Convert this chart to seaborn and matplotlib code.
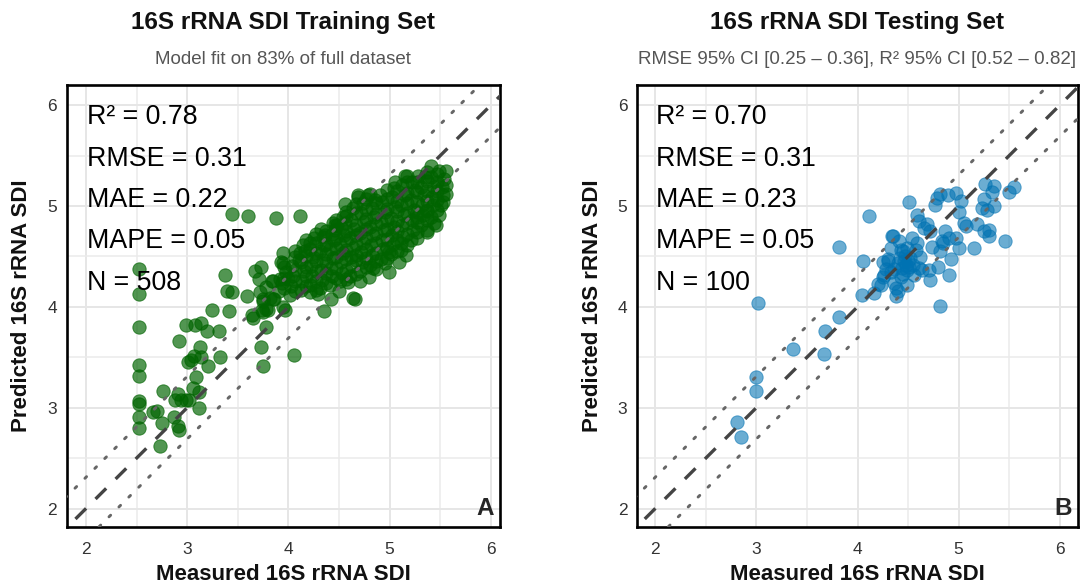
import numpy as np
import pandas as pd
import matplotlib
matplotlib.use("Agg")
import matplotlib.pyplot as plt
import seaborn as sns

# ---------------- data ----------------
train_measured = [
    2.52, 2.52, 2.52, 2.52, 2.52, 2.52, 2.52, 2.52, 2.52,
    2.76, 2.66, 2.70, 2.75, 2.87, 2.91, 2.92, 2.73,
    2.88, 2.94, 2.99, 2.91, 3.02, 3.12, 3.06, 3.12, 3.09,
    3.01, 3.04, 3.07, 3.13, 3.21, 3.32, 3.14, 2.92,
    2.99, 3.08, 3.14, 3.20, 3.31, 3.25, 3.41,
    3.64, 3.65, 3.75, 3.78, 3.73, 3.75, 3.78,
    3.59, 3.85, 3.39, 3.44, 3.44, 3.60, 3.88, 4.11,
    3.37, 3.74, 3.80, 3.75, 3.82, 3.86, 3.97, 3.95,
    4.06, 4.35, 4.64, 3.67, 3.71, 3.84, 3.92, 4.00,
    3.95, 3.93, 4.11, 4.10, 4.36, 4.46, 4.54,
    4.21, 4.29, 4.42, 4.50, 4.66,
    4.56, 4.69, 4.81, 4.90, 4.97, 5.05, 5.17, 5.28,
    5.41, 5.49, 5.56, 5.56, 5.56, 5.53, 5.49, 5.46,
    5.37, 5.37, 5.27, 5.27, 5.16, 5.11, 5.09, 4.99,
    4.95, 4.87, 4.80, 4.71, 4.59, 4.34, 4.21, 4.46,
    4.56, 4.44, 5.15, 5.44, 5.37, 4.99, 4.84,
    4.69, 4.79, 4.48, 3.95, 3.85, 3.75,
    3.73, 3.78, 3.72,
    3.91, 3.94, 3.98, 4.02, 4.03, 4.05, 4.04, 4.07,
    4.12, 4.13, 4.15, 4.12, 4.16, 4.14,
    4.21, 4.23, 4.22, 4.24, 4.21, 4.25,
    4.31, 4.33, 4.32, 4.34, 4.31, 4.35, 4.32,
    4.41, 4.43, 4.42, 4.44, 4.41, 4.45, 4.43,
    4.51, 4.53, 4.52, 4.54, 4.51, 4.55, 4.52, 4.57,
    4.61, 4.63, 4.62, 4.64, 4.61, 4.65, 4.62, 4.64,
    4.71, 4.73, 4.72, 4.74, 4.71, 4.75, 4.72, 4.74,
    4.81, 4.83, 4.82, 4.84, 4.81, 4.85, 4.83, 4.86,
    4.91, 4.93, 4.92, 4.94, 4.91, 4.95, 4.92,
    5.01, 5.03, 5.02, 5.04, 5.01, 5.05, 5.02, 5.04,
    5.11, 5.13, 5.12, 5.14, 5.11, 5.15, 5.12,
    5.21, 5.23, 5.22, 5.24, 5.21, 5.25, 5.22,
    5.31, 5.33, 5.32, 5.34, 5.31, 5.35,
    5.41, 5.43, 5.42, 5.44, 5.41,
    5.51, 5.53, 5.52, 5.54,
    3.96, 3.96, 3.96,
    4.07, 4.07, 4.07, 4.07,
    4.17, 4.17, 4.17, 4.17, 4.17,
    4.27, 4.27, 4.27, 4.27, 4.27, 4.27, 4.27,
    4.37, 4.37, 4.37, 4.37, 4.37, 4.37,
    4.47, 4.47, 4.47, 4.47, 4.47, 4.47,
    4.57, 4.57, 4.57, 4.57, 4.57, 4.57, 4.57,
    4.67, 4.67, 4.67, 4.67, 4.67, 4.67, 4.67, 4.67,
    4.77, 4.77, 4.77, 4.77, 4.77, 4.77, 4.77, 4.77,
    4.87, 4.87, 4.87, 4.87, 4.87, 4.87, 4.87,
    4.97, 4.97, 4.97, 4.97, 4.97, 4.97, 4.97,
    5.07, 5.07, 5.07, 5.07, 5.07, 5.07, 5.07,
    5.17, 5.17, 5.17, 5.17, 5.17, 5.17, 5.17,
    5.27, 5.27, 5.27, 5.27, 5.27, 5.27,
    5.37, 5.37, 5.37, 5.37, 5.37, 5.37,
    5.47, 5.47, 5.47, 5.47, 5.47,
]
train_predicted = [
    4.38, 4.13, 3.80, 3.42, 3.31, 3.07, 3.04, 2.91, 2.80,
    3.17, 2.96, 2.97, 2.85, 2.91, 2.82, 2.78, 2.62,
    3.08, 3.08, 3.08, 3.14, 3.08, 3.00, 3.20, 3.16, 3.30,
    3.45, 3.47, 3.51, 3.60, 3.41, 3.50, 3.50, 3.66,
    3.82, 3.82, 3.84, 3.76, 3.76, 3.97, 3.96,
    3.92, 3.89, 3.95, 3.98, 3.60, 3.41, 3.80,
    4.11, 4.08, 4.16, 4.15, 4.92, 4.90, 4.88, 4.90,
    4.32, 3.97, 3.97, 4.06, 4.09, 4.08, 3.97, 4.00,
    3.52, 3.96, 4.09, 4.36, 4.28, 4.26, 4.28, 4.28,
    4.53, 4.44, 4.53, 4.46, 4.71, 4.81, 4.89,
    4.15, 4.13, 4.08, 4.16, 4.08,
    5.02, 5.09, 5.12, 5.11, 5.16, 5.24, 5.30, 5.30,
    5.40, 5.35, 5.35, 5.21, 5.12, 5.04, 4.91, 4.81,
    4.76, 4.96, 4.68, 4.89, 4.51, 4.63, 4.44, 4.54,
    4.43, 4.38, 4.30, 4.26, 4.25, 4.69, 4.63, 4.76,
    4.83, 4.83, 5.30, 4.83, 4.74, 4.35, 4.39,
    5.11, 5.11, 4.81, 4.43, 4.26, 4.08,
    4.40, 4.20, 4.15,
    4.16, 4.24, 4.35, 4.12, 4.21, 4.31, 4.41, 4.49,
    4.17, 4.26, 4.36, 4.44, 4.55, 4.61,
    4.22, 4.31, 4.41, 4.49, 4.57, 4.68,
    4.19, 4.27, 4.37, 4.46, 4.55, 4.61, 4.77,
    4.22, 4.31, 4.39, 4.48, 4.57, 4.66, 4.72,
    4.26, 4.34, 4.44, 4.53, 4.62, 4.71, 4.79, 4.94,
    4.31, 4.41, 4.49, 4.58, 4.68, 4.77, 4.86, 4.98,
    4.36, 4.44, 4.54, 4.63, 4.73, 4.84, 4.93, 5.03,
    4.42, 4.51, 4.61, 4.71, 4.79, 4.89, 4.98, 5.06,
    4.47, 4.57, 4.66, 4.76, 4.84, 4.94, 5.04,
    4.52, 4.62, 4.71, 4.79, 4.88, 4.99, 5.09, 5.18,
    4.56, 4.69, 4.81, 4.91, 5.01, 5.11, 5.21,
    4.66, 4.76, 4.86, 4.96, 5.06, 5.16, 5.24,
    4.81, 4.91, 5.01, 5.11, 5.19, 5.29,
    4.89, 5.01, 5.09, 5.19, 5.29,
    5.01, 5.11, 5.19, 5.27,
    4.19, 4.29, 4.40,
    4.16, 4.26, 4.37, 4.55,
    4.21, 4.31, 4.40, 4.50, 4.66,
    4.17, 4.26, 4.36, 4.45, 4.53, 4.63, 4.72,
    4.24, 4.34, 4.43, 4.52, 4.62, 4.75,
    4.29, 4.39, 4.49, 4.58, 4.68, 4.86,
    4.28, 4.37, 4.47, 4.56, 4.66, 4.75, 4.90,
    4.33, 4.46, 4.51, 4.62, 4.71, 4.81, 4.93, 5.02,
    4.40, 4.48, 4.57, 4.68, 4.77, 4.87, 4.97, 5.07,
    4.45, 4.53, 4.63, 4.73, 4.82, 4.92, 5.03,
    4.48, 4.58, 4.67, 4.77, 4.86, 4.97, 5.07,
    4.55, 4.66, 4.75, 4.85, 4.95, 5.05, 5.15,
    4.61, 4.72, 4.83, 4.93, 5.03, 5.13, 5.24,
    4.74, 4.84, 4.94, 5.04, 5.14, 5.24,
    4.86, 4.95, 5.05, 5.15, 5.25, 5.34,
    4.96, 5.06, 5.15, 5.24, 5.32,
]

test_measured = [
    3.36, 3.68, 3.67, 3.00, 3.00, 2.81, 2.85, 3.02, 3.82, 4.11,
    4.51, 4.05, 3.82, 4.04, 4.16, 4.23, 4.26, 4.25, 4.34, 4.41,
    4.45, 4.54, 4.59, 4.52, 4.44, 4.36, 4.38, 4.38, 4.49, 4.56,
    4.30, 4.33, 4.59, 4.61, 4.20, 4.25, 4.30, 4.43, 4.49, 4.48,
    4.49, 4.40, 4.62, 4.61, 4.64, 4.71, 4.72, 4.80, 4.82, 4.74,
    4.85, 4.87, 4.92, 4.90, 4.97, 5.00, 4.82, 4.69, 4.72, 4.77,
    4.79, 4.82, 4.89, 4.97, 5.02, 5.00, 5.05, 5.07, 5.18, 5.25,
    5.30, 5.30, 5.15, 5.26, 5.35, 5.33, 5.25, 5.23, 5.28, 5.35,
    5.50, 5.55, 5.46, 4.46, 4.51, 4.66, 4.84, 4.90, 4.35, 4.42,
    4.47, 4.40, 4.45, 4.50, 4.36, 4.43, 4.55, 4.33, 4.58, 4.28,
]
test_predicted = [
    3.58, 3.76, 3.53, 3.30, 3.17, 2.86, 2.71, 4.04, 4.59, 4.90,
    5.04, 4.45, 3.90, 4.12, 4.14, 4.22, 4.32, 4.44, 4.70, 4.65,
    4.55, 4.68, 4.63, 4.48, 4.39, 4.24, 4.19, 4.11, 4.22, 4.32,
    4.45, 4.35, 4.91, 4.85, 4.23, 4.30, 4.47, 4.56, 4.58, 4.42,
    4.37, 4.16, 4.49, 4.39, 4.37, 4.37, 4.27, 4.40, 4.55, 4.59,
    4.63, 4.75, 4.47, 4.32, 4.68, 4.58, 4.01, 4.82, 4.75, 5.01,
    5.08, 5.12, 5.11, 5.13, 5.05, 4.94, 4.83, 4.80, 4.82, 4.75,
    4.70, 4.76, 4.58, 5.22, 5.20, 5.14, 5.07, 4.98, 4.96, 5.00,
    5.14, 5.19, 4.65, 4.45, 4.40, 4.78, 4.65, 4.68, 4.70, 4.48,
    4.50, 4.43, 4.33, 4.45, 4.38, 4.30, 4.42, 4.58, 4.56, 4.38,
]

panel_titles = ["16S rRNA SDI Training Set", "16S rRNA SDI Testing Set"]
panel_subtitles = ["Model fit on 83% of full dataset",
                   "RMSE 95% CI [0.25 \u2013 0.36], R\u00b2 95% CI [0.52 \u2013 0.82]"]
panel_letters = ["A", "B"]
stats_train = ["R\u00b2 = 0.78", "RMSE = 0.31", "MAE = 0.22", "MAPE = 0.05", "N = 508"]
stats_test = ["R\u00b2 = 0.70", "RMSE = 0.31", "MAE = 0.23", "MAPE = 0.05", "N = 100"]
rmse_values = [0.31, 0.31]
tick_values = [2, 3, 4, 5, 6]
x_label = "Measured 16S rRNA SDI"
y_label = "Predicted 16S rRNA SDI"

# ---------------- style ----------------
sns.set_theme(style="white")
plt.rcParams["font.family"] = ["Liberation Sans", "DejaVu Sans"]

W, H = 1090, 585
fig = plt.figure(figsize=(W / 100, H / 100), dpi=100)

def fx(px):
    return px / W

def fy(py):
    return 1 - py / H

ax1 = fig.add_axes([fx(66.7), fy(526.7), fx(500 - 66.7), (526.7 - 85) / H])
ax2 = fig.add_axes([fx(637), fy(526.7), fx(1078 - 637), (526.7 - 85) / H])

df_train = pd.DataFrame({"measured": train_measured, "predicted": train_predicted})
df_test = pd.DataFrame({"measured": test_measured, "predicted": test_predicted})

panels = [
    (ax1, df_train, "#006400", 0.68, (1.81, 6.09), stats_train),
    (ax2, df_test, "#0072B2", 0.58, (1.82, 6.18), stats_test),
]

for i, (ax, df, col, alpha, xlim, stats) in enumerate(panels):
    ax.set_xlim(*xlim)
    ax.set_ylim(1.82, 6.20)
    ax.set_xticks(tick_values)
    ax.set_yticks(tick_values)
    ax.set_xticks([2.5, 3.5, 4.5, 5.5], minor=True)
    ax.set_yticks([2.5, 3.5, 4.5, 5.5], minor=True)
    ax.grid(which="major", color="#e6e6e6", lw=1.4, zorder=0)
    ax.grid(which="minor", color="#ebebeb", lw=1.1, zorder=0)
    ax.set_axisbelow(True)
    ax.tick_params(which="both", length=0)
    ax.tick_params(axis="x", pad=11, labelsize=12.5, labelcolor="#333333")
    ax.tick_params(axis="y", pad=7, labelsize=12.5, labelcolor="#333333")
    for s in ax.spines.values():
        s.set_visible(True)
        s.set_color("black")
        s.set_linewidth(1.9)

    # reference lines
    lo, hi = 1.5, 6.5
    r = rmse_values[i]
    ax.plot([lo, hi], [lo, hi], color="#444444", lw=2.4, ls=(0, (4.5, 4.0)), zorder=3)
    ax.plot([lo, hi], [lo + r, hi + r], color="#666666", lw=2.1, ls=(0, (0.8, 4.0)),
            dash_capstyle="round", zorder=3)
    ax.plot([lo, hi], [lo - r, hi - r], color="#666666", lw=2.1, ls=(0, (0.8, 4.0)),
            dash_capstyle="round", zorder=3)

    sns.scatterplot(data=df, x="measured", y="predicted", ax=ax, color=col,
                    alpha=alpha, s=92, edgecolor=col, linewidth=0.7, zorder=2,
                    legend=False)
    ax.set_xlabel("")
    ax.set_ylabel("")

    for k, txt in enumerate(stats):
        ax.text(2.01, 5.81 - 0.41 * k, txt, fontsize=19.3, color="black",
                ha="left", va="baseline", zorder=5)
    ax.text(xlim[1] - 0.15, 2.0, panel_letters[i], fontsize=17.5, fontweight="bold",
            ha="center", va="center", zorder=5)

    # titles
    box = ax.get_position()
    cx = box.x0 + box.width / 2
    fig.text(cx, fy(23), panel_titles[i], fontsize=17.5, fontweight="bold",
             ha="center", va="center", color="#111111")
    fig.text(cx, fy(60), panel_subtitles[i], fontsize=13.5, ha="center",
             va="center", color="#555555")
    fig.text(cx, fy(575), x_label, fontsize=16, fontweight="bold",
             ha="center", va="center", color="#111111")
    ylx = 22 if i == 0 else 593
    fig.text(fx(ylx), box.y0 + box.height / 2, y_label, fontsize=16,
             fontweight="bold", rotation=90, ha="center", va="center", color="#111111")

fig.savefig("out.png", dpi=100, facecolor="white")
